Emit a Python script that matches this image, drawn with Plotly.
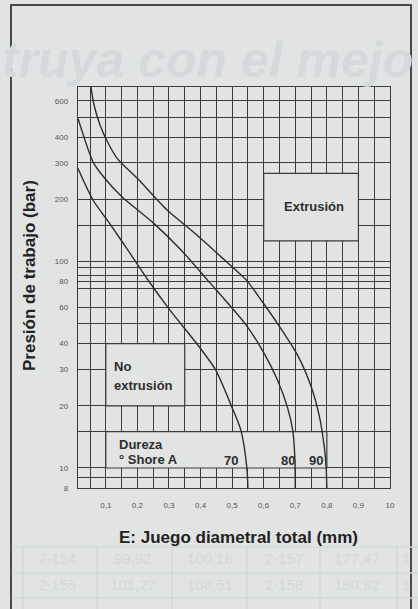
import math
import plotly.graph_objects as go

# Extrusion limit curves per hardness (Shore A): total diametral gap (mm) vs working pressure (bar)
gap_70 = [0.012, 0.06, 0.112, 0.170, 0.237, 0.30, 0.392, 0.447, 0.497, 0.528, 0.547, 0.55]
pres_70 = [282, 198, 153, 113.5, 80, 59, 39.3, 30, 20.1, 15.2, 9.9, 8]
gap_80 = [0.012, 0.06, 0.094, 0.151, 0.252, 0.339, 0.423, 0.541, 0.590, 0.644, 0.676, 0.692,
          0.699, 0.70]
pres_80 = [493, 303, 256, 206, 153, 113.5, 81, 50, 38.5, 26.6, 19.5, 15.2, 10.9, 8]
gap_90 = [0.053, 0.063, 0.082, 0.106, 0.136, 0.205, 0.295, 0.382, 0.466, 0.546, 0.595, 0.644,
          0.708, 0.751, 0.777, 0.792, 0.798, 0.80]
pres_90 = [700, 571, 457, 378, 316, 248, 177, 137, 105, 81, 64, 50, 35, 24.6, 17.6, 12.6, 10, 8]

hardness = ["70", "80", "90"]
hardness_label_x = [0.496, 0.677, 0.767]

# Axis grid / tick labels
x_grid = [round(0.05 * i, 2) for i in range(1, 21)]
x_labels = {0.1: "0,1", 0.2: "0,2", 0.3: "0,3", 0.4: "0,4", 0.5: "0,5",
            0.6: "0,6", 0.7: "0,7", 0.8: "0,8", 0.9: "0,9", 1.0: "10"}
y_grid = [8, 9, 10, 15, 20, 30, 40, 50, 60, 74, 80, 86, 94, 100, 150, 200, 300, 400, 500, 600]
y_labels = {8: "8", 10: "10", 20: "20", 30: "30", 40: "40", 60: "60", 80: "80",
            100: "100", 200: "200", 300: "300", 400: "400", 600: "600"}

# Faint printed table showing below the chart
table_rows = [["2-154", "99,92", "100,16", "2-157", "177,47", "1"],
              ["2-155", "101,27", "108,51", "2-158", "180,82", "1"]]

BG = "#e2e4e3"
INK = "#2e2e2e"
GRID = "#3b3b3b"
FAINT = "#d4d8da"

W, H = 418, 609
L, R, T, B = 78, 28, 87, 121
PW, PH = W - L - R, H - T - B


def px(x):
    return (x - L) / PW


def py(y):
    return (H - B - y) / PH


fig = go.Figure()
for g, p in [(gap_70, pres_70), (gap_80, pres_80), (gap_90, pres_90)]:
    fig.add_trace(go.Scatter(x=g, y=p, mode="lines",
                             line=dict(color=INK, width=1.4, shape="spline", smoothing=0.7),
                             hoverinfo="skip", showlegend=False))

shapes = []
# Label boxes that interrupt the grid
for x0, x1, y0, y1 in [(0.6, 0.9, 126, 267), (0.1, 0.35, 20, 40), (0.1, 0.8, 10, 15)]:
    shapes.append(dict(type="rect", xref="x", yref="y", x0=x0, x1=x1, y0=y0, y1=y1,
                       fillcolor=BG, line=dict(color=GRID, width=1.2), layer="between"))

# Page frame
shapes.append(dict(type="rect", xref="paper", yref="paper",
                   x0=px(11), x1=px(411), y0=py(640), y1=py(5),
                   line=dict(color="#4a4a4a", width=2), fillcolor="rgba(0,0,0,0)", layer="below"))
# Faint table rules
for yy in [547, 573, 598]:
    shapes.append(dict(type="line", xref="paper", yref="paper", x0=px(13), x1=px(418),
                       y0=py(yy), y1=py(yy), line=dict(color=FAINT, width=1.5), layer="below"))
col_edges = [23, 97, 172, 247, 320, 397]
for xx in col_edges:
    shapes.append(dict(type="line", xref="paper", yref="paper", x0=px(xx), x1=px(xx),
                       y0=py(547), y1=py(612), line=dict(color=FAINT, width=1.5), layer="below"))

ann = []
# Watermark text printed across the page
ann.append(dict(xref="paper", yref="paper", x=px(0), y=py(60), xanchor="left", yanchor="middle",
                text="<i><b>truya con el mejo</b></i>", showarrow=False,
                font=dict(family="Liberation Sans, Arial", size=50, color="#d3d9dc")))
col_centers = [57, 133, 210, 284, 357, 406]
for row, yy in zip(table_rows, [558, 584]):
    for txt, xx in zip(row, col_centers):
        ann.append(dict(xref="paper", yref="paper", x=px(xx), y=py(yy), text=txt,
                        showarrow=False, xanchor="center", yanchor="middle",
                        font=dict(family="Liberation Sans, Arial", size=15, color=FAINT)))

bold = dict(family="Liberation Sans, Arial", size=13, color=INK)
ann.append(dict(x=0.758, y=math.log10(184), text="<b>Extrusión</b>", showarrow=False, font=bold))
ann.append(dict(x=0.121, y=math.log10(31), text="<b>No</b>", showarrow=False, xanchor="left", font=bold))
ann.append(dict(x=0.121, y=math.log10(25), text="<b>extrusión</b>", showarrow=False, xanchor="left", font=bold))
ann.append(dict(x=0.137, y=math.log10(13), text="<b>Dureza</b>", showarrow=False, xanchor="left", font=bold))
ann.append(dict(x=0.137, y=math.log10(11), text="<b>° Shore A</b>", showarrow=False, xanchor="left", font=bold))
for lab, xx in zip(hardness, hardness_label_x):
    ann.append(dict(x=xx, y=math.log10(10.9), text=f"<b>{lab}</b>", showarrow=False, font=bold))

# Axis titles
title_font = dict(family="Liberation Sans, Arial", size=17, color="#222222")
ann.append(dict(xref="paper", yref="paper", x=px(29), y=py(276), text="<b>Presión de trabajo (bar)</b>",
                textangle=-90, showarrow=False, xanchor="center", yanchor="middle", font=title_font))
ann.append(dict(xref="paper", yref="paper", x=px(238), y=py(537), text="<b>E: Juego diametral total (mm)</b>",
                showarrow=False, xanchor="center", yanchor="middle", font=title_font))

tick_font = dict(family="Liberation Sans, Arial", size=8, color="#555555")
fig.update_layout(
    width=W, height=H, margin=dict(l=L, r=R, t=T, b=B),
    paper_bgcolor=BG, plot_bgcolor=BG,
    shapes=shapes, annotations=ann, showlegend=False,
    xaxis=dict(range=[0.012, 1.0], tickmode="array", tickvals=x_grid,
               ticktext=[x_labels.get(v, "") for v in x_grid],
               showgrid=True, gridcolor=GRID, gridwidth=1.2, zeroline=False,
               showline=True, mirror=True, linecolor=GRID, linewidth=1.4,
               ticks="outside", ticklen=9, tickcolor=BG, tickfont=tick_font),
    yaxis=dict(type="log", range=[math.log10(8), math.log10(700)], tickmode="array",
               tickvals=y_grid, ticktext=[y_labels.get(v, "") for v in y_grid],
               showgrid=True, gridcolor=GRID, gridwidth=1.2, zeroline=False,
               showline=True, mirror=True, linecolor=GRID, linewidth=1.4,
               ticks="outside", ticklen=7, tickcolor=BG, tickfont=tick_font),
)

fig.write_html("out.html")
